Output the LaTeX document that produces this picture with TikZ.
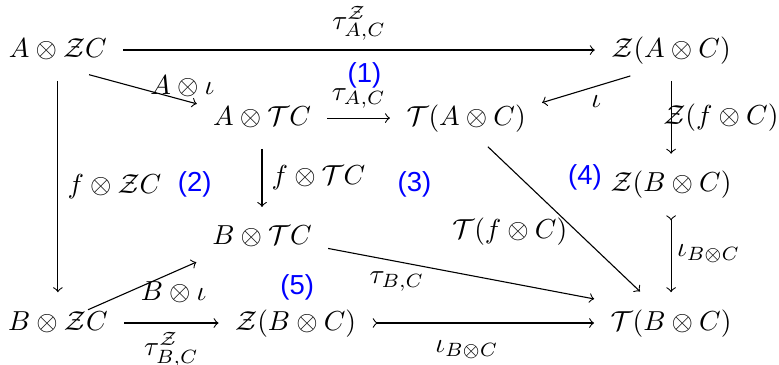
\documentclass[tikz,border=0pt]{standalone}
\usepackage{amsmath,amssymb}
\usepackage{fontspec}
\newfontfamily\regionfont{Liberation Sans}
\usetikzlibrary{positioning}

\begin{document}
\begin{tikzpicture}[
    obj/.style={inner sep=0.333em, text height=1.8ex, text depth=0.6ex},
    arr/.style={->, shorten <=2.5pt, shorten >=2.5pt},
    mono/.style={arr, >->},
    region/.style={text=blue, font=\regionfont}
]
\useasboundingbox (0,0) rectangle (9.96,-4.66);

\node[obj] (AZC) at (0.74,-0.64) {$A\otimes\mathcal{Z}C$};
\node[obj] (ZAC) at (8.58,-0.64) {$\mathcal{Z}(A\otimes C)$};
\node[obj] (ATC) at (3.35,-1.51) {$A\otimes\mathcal{T}C$};
\node[obj] (TAC) at (5.96,-1.51) {$\mathcal{T}(A\otimes C)$};
\node[obj] (ZBCr) at (8.58,-2.36) {$\mathcal{Z}(B\otimes C)$};
\node[obj] (BTC) at (3.35,-3.04) {$B\otimes\mathcal{T}C$};
\node[obj] (BZC) at (0.74,-4.13) {$B\otimes\mathcal{Z}C$};
\node[obj] (ZBC) at (3.78,-4.13) {$\mathcal{Z}(B\otimes C)$};
\node[obj] (TBC) at (8.58,-4.13) {$\mathcal{T}(B\otimes C)$};

% region numbers
\node[region] (r1) at (4.66,-0.96) {(1)};
\node[region] (r2) at (2.49,-2.36) {(2)};
\node[region] (r3) at (5.30,-2.36) {(3)};
\node[region] (r4) at (7.48,-2.27) {(4)};
\node[region] (r5) at (3.80,-3.68) {(5)};

\draw[arr] (AZC) -- node[above] {$\tau^{\mathcal{Z}}_{A,C}$} (ZAC);
\draw[arr, shorten <=1pt] (AZC.-40) -- node[pos=0.82, above, inner sep=1pt] {$A\otimes\iota$} (ATC.168);
\draw[arr] (ATC) -- node[above] {$\tau_{A,C}$} (TAC);
\draw[arr] (ZAC.-145) -- node[pos=0.4, below] {$\iota$} (TAC.11);
\draw[arr] (ZAC) -- node[right, inner sep=0pt, xshift=-3pt] {$\mathcal{Z}(f\otimes C)$} (ZBCr);
\draw[arr] (AZC) -- node[right] {$f\otimes\mathcal{Z}C$} (BZC);
\draw[arr] (ATC) -- node[right] {$f\otimes\mathcal{T}C$} (BTC);
\draw[arr, shorten >=4pt] (TAC.-55) -- node[pos=0.57, left] {$\mathcal{T}(f\otimes C)$} (TBC.134);
\draw[mono] (ZBCr) -- node[right, inner sep=2pt] {$\iota_{B\otimes C}$} (TBC);
\draw[arr] (BTC.-9) -- node[pos=0.27, below] {$\tau_{B,C}$} (TBC.162);
\draw[arr, shorten <=12pt] (BZC.center) -- node[pos=0.8, below] {$B\otimes\iota$} (BTC.200);
\draw[arr] (BZC) -- node[below] {$\tau^{\mathcal{Z}}_{B,C}$} (ZBC);
\draw[mono] (ZBC) -- node[pos=0.43, below, yshift=-3pt] {$\iota_{B\otimes C}$} (TBC);
\end{tikzpicture}
\end{document}
